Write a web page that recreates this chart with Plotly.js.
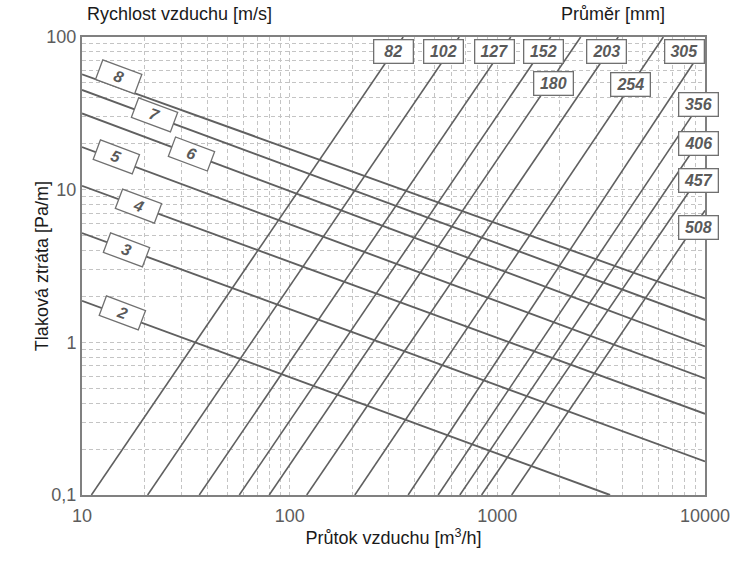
<!DOCTYPE html>
<html><head><meta charset="utf-8">
<script src="https://cdn.plot.ly/plotly-3.0.1.min.js"></script>
<style>html,body{margin:0;padding:0;background:#fff}#chart{width:754px;height:563px}</style>
</head><body><div id="chart"></div>
<script>
// ---- Data ----
// Air velocity lines [m/s]: two endpoints each (flow m3/h, pressure loss Pa/m)
const velocityLabels    = ['2', '3', '4', '5', '6', '7', '8'];
const velocityFlowStart = [10, 10, 10, 10, 10, 10, 10];
const velocityLossStart = [1.87, 5.2, 10.6, 19, 31.6, 45, 57];
const velocityFlowEnd   = [3490, 10000, 10000, 10000, 10000, 10000, 10000];
const velocityLossEnd   = [0.1, 0.166, 0.34, 0.58, 0.94, 1.40, 1.94];

// Duct diameter lines [mm]: two endpoints each
const diameterLabels    = ['82', '102', '127', '152', '180', '203', '254', '305', '356', '406', '457', '508'];
const diameterFlowStart = [11.1, 20.7, 36.7, 57.2, 79.7, 120.8, 206, 372, 519, 660, 840, 1172];
const diameterLossStart = [0.1, 0.1, 0.1, 0.1, 0.1, 0.1, 0.1, 0.1, 0.1, 0.1, 0.1, 0.1];
const diameterFlowEnd   = [352, 655, 1160, 1807, 2520, 3820, 6300, 10000, 10000, 10000, 10000, 10000];
const diameterLossEnd   = [100, 100, 100, 100, 100, 100, 100, 88, 41, 23.7, 13.8, 7.3];

// Tick labels
const xTickVals = [10, 100, 1000, 10000];
const xTickText = ['10', '100', '1000', '10000'];
const yTickVals = [0.1, 1, 10, 100];
const yTickText = ['0,1', '1', '10', '100'];

// ---- Label box placement (log10 coordinates of box centres) ----
const velLabelPosX = [1.196, 1.215, 1.271, 1.167, 1.527, 1.351, 1.178];
const velLabelPosY = [0.195, 0.605, 0.893, 1.217, 1.234, 1.489, 1.735];
const diaLabelPosX = [2.500, 2.740, 2.988, 3.220, 3.269, 3.524, 3.640, 3.902, 3.970, 3.970, 3.970, 3.970];
const diaLabelPosY = [1.906, 1.906, 1.906, 1.906, 1.694, 1.906, 1.688, 1.906, 1.561, 1.301, 1.060, 0.754];

const lineColor = '#606060';
const traces = [];
velocityLabels.forEach((lab, i) => {
  traces.push({
    type: 'scatter', mode: 'lines', name: lab + ' m/s',
    x: [velocityFlowStart[i], velocityFlowEnd[i]],
    y: [velocityLossStart[i], velocityLossEnd[i]],
    line: {color: lineColor, width: 1.9}, hoverinfo: 'skip'
  });
});
diameterLabels.forEach((lab, i) => {
  traces.push({
    type: 'scatter', mode: 'lines', name: lab + ' mm',
    x: [diameterFlowStart[i], diameterFlowEnd[i]],
    y: [diameterLossStart[i], diameterLossEnd[i]],
    line: {color: lineColor, width: 1.6}, hoverinfo: 'skip'
  });
});

const labelFont = {family: 'Arial, "Liberation Sans", sans-serif', size: 16, color: '#5a5a5a'};
const annotations = [];
velocityLabels.forEach((lab, i) => {
  annotations.push({
    xref: 'x', yref: 'y', x: velLabelPosX[i], y: velLabelPosY[i],
    text: '<b><i>' + lab + '</i></b>', showarrow: false, textangle: 20.5,
    font: labelFont, bgcolor: '#ffffff', bordercolor: '#707070', borderwidth: 1.3,
    borderpad: 1, width: 38, height: 17, xanchor: 'center', yanchor: 'middle'
  });
});
diameterLabels.forEach((lab, i) => {
  annotations.push({
    xref: 'x', yref: 'y', x: diaLabelPosX[i], y: diaLabelPosY[i],
    text: '<b><i>' + lab + '</i></b>', showarrow: false,
    font: labelFont, bgcolor: '#ffffff', bordercolor: '#707070', borderwidth: 1.3,
    borderpad: 1, width: 36, height: 20, xanchor: 'center', yanchor: 'middle'
  });
});
const titleFont = {family: 'Arial, "Liberation Sans", sans-serif', size: 18, color: '#1a1a1a'};
annotations.push({xref: 'paper', yref: 'paper', x: 0.157, y: 1.05, xanchor: 'center', yanchor: 'middle',
  text: 'Rychlost vzduchu [m/s]', showarrow: false, font: titleFont});
annotations.push({xref: 'paper', yref: 'paper', x: 0.852, y: 1.05, xanchor: 'center', yanchor: 'middle',
  text: 'Průměr [mm]', showarrow: false, font: titleFont});
annotations.push({xref: 'paper', yref: 'paper', x: -0.064, y: 0.5, xanchor: 'center', yanchor: 'middle',
  text: 'Tlaková ztráta [Pa/m]', showarrow: false, font: titleFont, textangle: -90});

function minorVals(lo, hi) {
  const v = [];
  for (let d = lo; d < hi; d++) for (let k = 2; k <= 9; k++) v.push(k * Math.pow(10, d));
  return v;
}
const gridStyle = {gridcolor: '#c4c4c4', gridwidth: 1, griddash: '4px,3px'};
const tickFont = {family: 'Arial, "Liberation Sans", sans-serif', size: 18, color: '#5c5c5c'};

const layout = {
  width: 754, height: 563,
  margin: {l: 82, r: 49, t: 37, b: 68},
  paper_bgcolor: '#ffffff', plot_bgcolor: '#ffffff',
  showlegend: false,
  xaxis: Object.assign({
    type: 'log', range: [1, 4], tickmode: 'array', tickvals: xTickVals, ticktext: xTickText,
    showgrid: true, ticks: '', tickfont: tickFont, showline: true, linecolor: '#808080', linewidth: 2,
    mirror: true, zeroline: false, ticklabelstandoff: 3,
    minor: Object.assign({tickmode: 'array', tickvals: minorVals(1, 4), showgrid: true, ticks: ''}, gridStyle),
    title: {text: 'Průtok vzduchu [m<sup>3</sup>/h]', font: titleFont, standoff: 3}
  }, gridStyle),
  yaxis: Object.assign({
    type: 'log', range: [-1, 2], tickmode: 'array', tickvals: yTickVals, ticktext: yTickText,
    showgrid: true, ticks: '', tickfont: tickFont, showline: true, linecolor: '#808080', linewidth: 2,
    mirror: true, zeroline: false,
    minor: Object.assign({tickmode: 'array', tickvals: minorVals(-1, 2), showgrid: true, ticks: ''}, gridStyle)
  }, gridStyle),
  annotations: annotations
};
Plotly.newPlot('chart', traces, layout, {staticPlot: true});
</script>
</body></html>
